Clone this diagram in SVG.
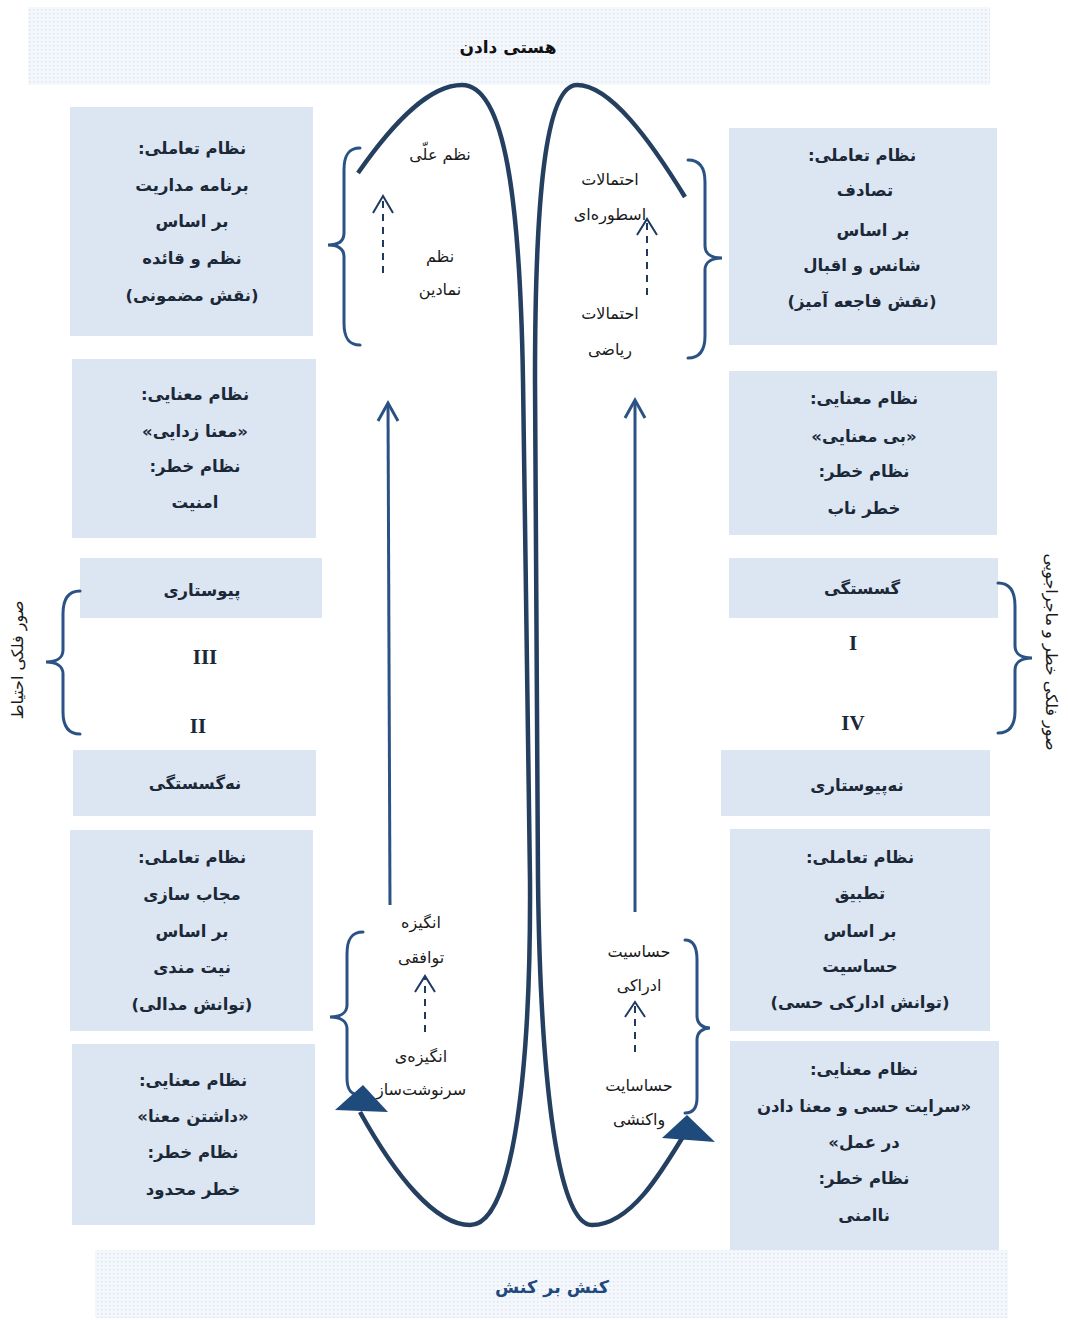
<svg xmlns="http://www.w3.org/2000/svg" width="1068" height="1320" viewBox="0 0 1068 1320">
<defs>
<pattern id="dots" width="4" height="4" patternUnits="userSpaceOnUse">
<rect width="4" height="4" fill="#f4f7fb"/>
<rect x="1" y="1" width="1.5" height="1.5" fill="#dde5ef"/>
</pattern>
<style>
.box{fill:#dce6f2}
.bt{font-family:"DejaVu Sans",sans-serif;font-weight:bold;font-size:16.5px;fill:#1b2838;text-anchor:middle;direction:rtl}
.lt{font-family:"DejaVu Sans",sans-serif;font-size:16px;fill:#1a1a1a;text-anchor:middle;direction:rtl}
.rn{font-family:"Liberation Serif",serif;font-weight:bold;font-size:21px;fill:#1b2838;text-anchor:middle}
.side{font-family:"DejaVu Sans",sans-serif;font-size:16px;fill:#1a1a1a;text-anchor:middle;direction:rtl}
.loop{fill:none;stroke:#243f60;stroke-width:4.5;stroke-linecap:butt}
.brace{fill:none;stroke:#2a5285;stroke-width:3;stroke-linecap:round}
.arr{fill:none;stroke:#2a5285;stroke-width:3}
.dash{fill:none;stroke:#1f3a5f;stroke-width:2;stroke-dasharray:7,6}
.head{fill:none;stroke:#1f3a5f;stroke-width:2}
</style>
</defs>
<rect width="1068" height="1320" fill="#ffffff"/>

<g id="header">
<rect x="28" y="7" width="962" height="78" fill="url(#dots)"/>
<text x="508" y="53" class="bt" style="fill:#111;font-size:17px">هستی دادن</text>
</g>
<g id="footer">
<rect x="95" y="1250" width="913" height="68" fill="url(#dots)"/>
<text x="552" y="1293" class="bt" style="fill:#1f497d;font-size:17.5px">کنش بر کنش</text>
</g>

<g id="left-interaction-top">
<rect class="box" x="70" y="107" width="243" height="229"/>
<text class="bt" x="192" y="154">نظام تعاملی:</text>
<text class="bt" x="192" y="191">برنامه مداریت</text>
<text class="bt" x="192" y="227">بر اساس</text>
<text class="bt" x="192" y="264">نظم و قائده</text>
<text class="bt" x="192" y="301">(نقش مضمونی)</text>
</g>
<g id="left-meaning-top">
<rect class="box" x="72" y="359" width="244" height="179"/>
<text class="bt" x="195" y="400">نظام معنایی:</text>
<text class="bt" x="195" y="437">«معنا زدایی»</text>
<text class="bt" x="195" y="472">نظام خطر:</text>
<text class="bt" x="195" y="508">امنیت</text>
</g>
<g id="left-continuity">
<rect class="box" x="80" y="558" width="242" height="60"/>
<text class="bt" x="202" y="596">پیوستاری</text>
</g>
<g id="left-noncontinuity">
<rect class="box" x="73" y="750" width="243" height="66"/>
<text class="bt" x="195" y="789">نه‌گسستگی</text>
</g>
<g id="left-interaction-bottom">
<rect class="box" x="70" y="830" width="243" height="201"/>
<text class="bt" x="192" y="863">نظام تعاملی:</text>
<text class="bt" x="192" y="900">مجاب سازی</text>
<text class="bt" x="192" y="937">بر اساس</text>
<text class="bt" x="192" y="973">نیت مندی</text>
<text class="bt" x="192" y="1010">(توانش مدالی)</text>
</g>
<g id="left-meaning-bottom">
<rect class="box" x="72" y="1044" width="243" height="181"/>
<text class="bt" x="193" y="1086">نظام معنایی:</text>
<text class="bt" x="193" y="1122">«داشتن معنا»</text>
<text class="bt" x="193" y="1158">نظام خطر:</text>
<text class="bt" x="193" y="1195">خطر محدود</text>
</g>

<g id="right-interaction-top">
<rect class="box" x="729" y="128" width="268" height="217"/>
<text class="bt" x="862" y="161">نظام تعاملی:</text>
<text class="bt" x="865" y="196">تصادف</text>
<text class="bt" x="873" y="236">بر اساس</text>
<text class="bt" x="862" y="271">شانس و اقبال</text>
<text class="bt" x="862" y="307">(نقش فاجعه آمیز)</text>
</g>
<g id="right-meaning-top">
<rect class="box" x="729" y="371" width="268" height="164"/>
<text class="bt" x="864" y="404">نظام معنایی:</text>
<text class="bt" x="864" y="442">«بی معنایی»</text>
<text class="bt" x="864" y="477">نظام خطر:</text>
<text class="bt" x="864" y="514">خطر ناب</text>
</g>
<g id="right-discontinuity">
<rect class="box" x="729" y="558" width="269" height="60"/>
<text class="bt" x="862" y="594">گسستگی</text>
</g>
<g id="right-noncontinuous">
<rect class="box" x="721" y="750" width="269" height="66"/>
<text class="bt" x="857" y="791">نه‌پیوستاری</text>
</g>
<g id="right-interaction-bottom">
<rect class="box" x="730" y="829" width="260" height="202"/>
<text class="bt" x="860" y="863">نظام تعاملی:</text>
<text class="bt" x="860" y="899">تطبیق</text>
<text class="bt" x="860" y="937">بر اساس</text>
<text class="bt" x="860" y="972">حساسیت</text>
<text class="bt" x="860" y="1008">(توانش ادارکی حسی)</text>
</g>
<g id="right-meaning-bottom">
<rect class="box" x="730" y="1041" width="269" height="209"/>
<text class="bt" x="864" y="1075">نظام معنایی:</text>
<text class="bt" x="864" y="1112">«سرایت حسی و معنا دادن</text>
<text class="bt" x="864" y="1148">در عمل»</text>
<text class="bt" x="864" y="1184">نظام خطر:</text>
<text class="bt" x="864" y="1221">ناامنی</text>
</g>

<g id="numerals">
<text class="rn" x="205" y="664">III</text>
<text class="rn" x="198" y="733">II</text>
<text class="rn" x="853" y="650">I</text>
<text class="rn" x="853" y="730">IV</text>
</g>

<g id="side-labels">
<text class="side" transform="translate(23,660) rotate(-90)">صور فلکی احتیاط</text>
<text class="side" transform="translate(1046,652) rotate(90)">صور فلکی خطر و ماجراجویی</text>
</g>

<g id="center-labels">
<text class="lt" x="440" y="160">نظم علّی</text>
<text class="lt" x="440" y="262">نظم</text>
<text class="lt" x="440" y="295">نمادین</text>
<text class="lt" x="610" y="185">احتمالات</text>
<text class="lt" x="610" y="220">اسطوره‌ای</text>
<text class="lt" x="610" y="319">احتمالات</text>
<text class="lt" x="610" y="355">ریاضی</text>
<text class="lt" x="421" y="928">انگیزه</text>
<text class="lt" x="421" y="963">توافقی</text>
<text class="lt" x="421" y="1062">انگیزه‌ی</text>
<text class="lt" x="421" y="1095">سرنوشت‌ساز</text>
<text class="lt" x="639" y="957">حساسیت</text>
<text class="lt" x="639" y="991">ادراکی</text>
<text class="lt" x="639" y="1091">حساسایت</text>
<text class="lt" x="639" y="1125">واکنشی</text>
</g>

<g id="connectors">
<path class="brace" d="M80,591 C68,591 63,600 63,614 L63,650 C63,658 56,662 46,662 C56,662 63,666 63,674 L63,712 C63,726 68,734 80,734"/>
<path class="brace" d="M998,583 C1010,583 1015,592 1015,606 L1015,646 C1015,654 1022,658 1032,658 C1022,658 1015,662 1015,670 L1015,711 C1015,725 1010,733 998,733"/>
<path class="brace" d="M360,148 C348,148 344,156 344,170 L344,233 C344,241 338,245 328,245 C338,245 344,249 344,257 L344,323 C344,337 348,345 360,345"/>
<path class="brace" d="M688,160 C700,160 705,168 705,182 L705,246 C705,254 712,258 722,258 C712,258 705,262 705,270 L705,336 C705,350 700,358 688,358"/>
<path class="brace" d="M363,932 C351,932 347,940 347,954 L347,1005 C347,1013 340,1017 330,1017 C340,1017 347,1021 347,1029 L347,1078 C347,1090 351,1095 360,1095"/>
<path class="brace" d="M685,940 C694,940 697,948 697,960 L697,1016 C697,1024 703,1028 710,1028 C703,1028 697,1032 697,1040 L697,1098 C697,1108 693,1113 685,1113"/>

<path class="loop" d="M358,173 C395,120 430,85 462,85 C505,85 520,200 523,380 L530,880 C531,1060 515,1225 470,1225 C435,1225 395,1175 360,1112"/>
<polygon points="335,1110 388,1112 363,1085" fill="#1f4a7c"/>
<path class="loop" d="M685,197 C650,140 610,85 577,85 C545,85 535,200 535,380 L538,880 C540,1060 555,1225 592,1225 C630,1225 660,1175 687,1130"/>
<polygon points="662,1138 715,1142 687,1115" fill="#1f4a7c"/>

<line class="arr" x1="390" y1="905" x2="388" y2="404"/>
<path class="arr" d="M378,421 L388,403 L398,421"/>
<line class="arr" x1="635" y1="912" x2="635" y2="401"/>
<path class="arr" d="M625,418 L635,400 L645,418"/>

<line class="dash" x1="383" y1="273" x2="383" y2="198"/>
<path class="head" d="M373,213 L383,196 L393,213"/>
<line class="dash" x1="647" y1="295" x2="647" y2="221"/>
<path class="head" d="M637,235 L647,219 L657,235"/>
<line class="dash" x1="425" y1="1032" x2="425" y2="978"/>
<path class="head" d="M415,992 L425,976 L435,992"/>
<line class="dash" x1="635" y1="1052" x2="635" y2="1005"/>
<path class="head" d="M625,1017 L635,1002 L645,1017"/>
</g>
</svg>
